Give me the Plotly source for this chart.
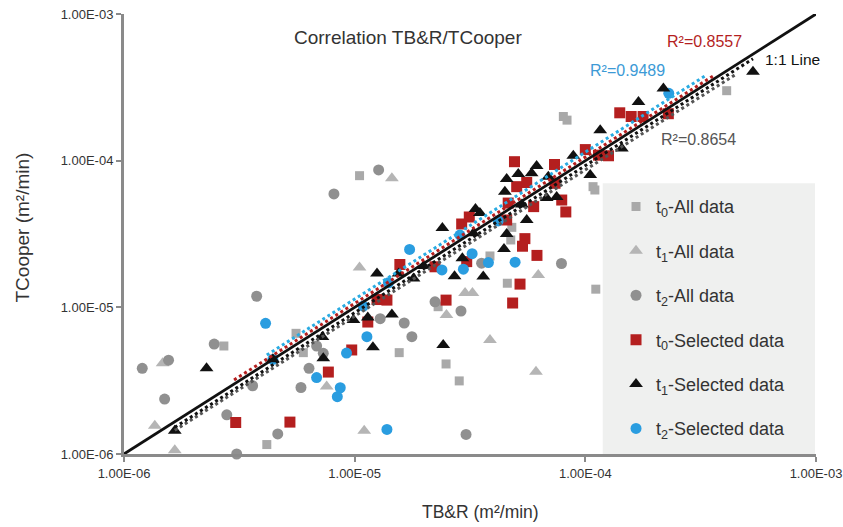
import plotly.graph_objects as go

# ---------------- data ----------------
tick_vals = [1e-6, 1e-5, 1e-4, 1e-3]
tick_text = ["1.00E-06", "1.00E-05", "1.00E-04", "1.00E-03"]

t0_all_x = [1.05e-5, 2.71e-6, 5.57e-6, 5.99e-6, 4.16e-6, 1.56e-5, 2.49e-5, 2.84e-5, 3.86e-5, 4.59e-5,
            4.80e-5, 4.75e-5, 1.11e-4, 8.03e-5, 8.33e-5, 1.08e-4, 1.10e-4, 4.10e-4, 2.30e-5]
t0_all_y = [7.9e-5, 5.45e-6, 6.65e-6, 4.91e-6, 1.16e-6, 4.91e-6, 4.11e-6, 3.15e-6, 2.24e-5, 1.46e-5,
            3.51e-5, 2.88e-5, 1.33e-5, 2.0e-4, 1.89e-4, 6.65e-5, 6.31e-5, 3.0e-4, 1.01e-5]

t1_all_x = [1.45e-5, 1.05e-5, 1.47e-6, 1.36e-6, 1.66e-6, 7.56e-6, 1.10e-5, 2.50e-5, 3.86e-5, 3.01e-5,
            3.24e-5, 6.25e-5, 6.11e-5]
t1_all_y = [7.58e-5, 1.87e-5, 4.15e-6, 1.56e-6, 1.06e-6, 2.88e-6, 1.44e-6, 8.87e-6, 5.99e-6, 1.25e-5,
            1.25e-5, 1.66e-5, 3.64e-6]

t2_all_x = [8.13e-6, 1.27e-5, 3.76e-6, 2.46e-6, 1.20e-6, 1.56e-6, 1.50e-6, 2.79e-6, 3.08e-6, 3.61e-6,
            4.64e-6, 5.85e-6, 6.34e-6, 6.84e-6, 7.31e-6, 1.29e-5, 1.64e-5, 1.77e-5, 2.23e-5, 2.89e-5,
            3.55e-5, 7.88e-5, 3.04e-5]
t2_all_y = [5.93e-5, 8.64e-5, 1.19e-5, 5.62e-6, 3.84e-6, 4.36e-6, 2.37e-6, 1.85e-6, 1.0e-6, 2.92e-6,
            1.37e-6, 2.84e-6, 3.84e-6, 5.45e-6, 4.86e-6, 8.37e-6, 7.82e-6, 6.31e-6, 1.09e-5, 9.44e-6,
            2.0e-5, 1.99e-5, 1.36e-6]

t0_sel_x = [3.05e-6, 5.24e-6, 7.69e-6, 9.71e-6, 1.14e-5, 1.25e-5, 1.38e-5, 1.57e-5, 2.23e-5, 2.49e-5,
            3.06e-5, 2.91e-5, 3.14e-5, 4.56e-5, 4.63e-5, 4.93e-5, 5.04e-5, 5.57e-5, 5.97e-5, 5.47e-5,
            5.34e-5, 6.17e-5, 5.21e-5, 4.84e-5, 7.35e-5, 7.39e-5, 7.90e-5, 8.23e-5, 1.0e-4, 1.14e-4,
            1.26e-4, 1.41e-4, 1.58e-4, 1.78e-4, 2.29e-4]
t0_sel_y = [1.64e-6, 1.65e-6, 3.62e-6, 5.12e-6, 7.94e-6, 1.13e-5, 1.12e-5, 1.96e-5, 1.89e-5, 1.12e-5,
            2.05e-5, 3.70e-5, 4.13e-5, 3.94e-5, 5.14e-5, 9.84e-5, 6.65e-5, 7.10e-5, 4.86e-5, 2.94e-5,
            2.61e-5, 2.26e-5, 1.44e-5, 1.07e-5, 9.42e-5, 7.01e-5, 5.39e-5, 4.47e-5, 1.19e-4, 1.09e-4,
            1.08e-4, 2.12e-4, 2.0e-4, 2.0e-4, 2.09e-4]

t1_sel_x = [1.66e-6, 2.28e-6, 4.42e-6, 7.25e-6, 7.31e-6, 9.88e-6, 1.14e-5, 1.20e-5, 1.45e-5, 1.25e-5,
            1.55e-5, 1.80e-5, 1.99e-5, 2.71e-5, 2.93e-5, 3.61e-5, 2.40e-5, 3.27e-5, 3.34e-5, 3.49e-5,
            2.42e-5, 4.48e-5, 4.56e-5, 5.12e-5, 5.85e-5, 6.15e-5, 6.91e-5, 5.31e-5, 5.57e-5, 4.56e-5,
            4.44e-5, 6.80e-5, 7.51e-5, 8.87e-5, 1.05e-4, 1.16e-4, 1.44e-4, 1.70e-4, 2.18e-4, 5.33e-4]
t1_sel_y = [1.44e-6, 3.84e-6, 4.42e-6, 6.28e-6, 4.49e-6, 8.2e-6, 8.52e-6, 5.34e-6, 8.94e-6, 1.70e-5,
            1.70e-5, 1.57e-5, 1.91e-5, 1.63e-5, 2.16e-5, 1.62e-5, 3.48e-5, 3.20e-5, 4.68e-5, 4.40e-5,
            5.54e-6, 6.14e-5, 7.5e-5, 8.11e-5, 8.2e-5, 9.2e-5, 7.77e-5, 5.02e-5, 3.94e-5, 3.16e-5,
            2.50e-5, 5.57e-5, 5.65e-5, 1.08e-4, 7.99e-5, 1.61e-4, 1.21e-4, 2.51e-4, 3.11e-4, 4.04e-4]

t2_sel_x = [4.11e-6, 4.42e-6, 6.84e-6, 8.66e-6, 8.41e-6, 9.22e-6, 1.13e-5, 1.09e-5, 1.38e-5, 1.40e-5,
            1.73e-5, 2.39e-5, 2.96e-5, 2.86e-5, 3.23e-5, 3.80e-5, 4.96e-5, 4.19e-5, 2.30e-4]
t2_sel_y = [7.78e-6, 4.41e-6, 3.32e-6, 2.83e-6, 2.46e-6, 4.88e-6, 6.31e-6, 1.02e-5, 1.47e-6, 1.47e-5,
            2.48e-5, 1.80e-5, 1.82e-5, 3.11e-5, 2.32e-5, 2.02e-5, 2.03e-5, 3.88e-5, 2.88e-4]

# trend lines (end points)
line_11_x = [1e-6, 1e-3]
line_11_y = [1e-6, 1e-3]
fit_t0_x = [3.0e-6, 3.6e-4]
fit_t0_y = [3.2e-6, 3.8e-4]
fit_t2_x = [4.16e-6, 3.30e-4]
fit_t2_y = [4.73e-6, 3.78e-4]
fit_t1_x = [1.66e-6, 5.33e-4]
fit_t1_y = [1.52e-6, 4.95e-4]
fit_all_x = [1.66e-6, 4.46e-4]
fit_all_y = [1.45e-6, 3.85e-4]

FONT = "Liberation Sans, Arial, Helvetica, sans-serif"
TXT = "#333333"

fig = go.Figure()

def pts(x, y, name, symbol, size, color, rank):
    fig.add_trace(go.Scatter(
        x=x, y=y, mode="markers", name=name, legendgroup=name, legendrank=rank,
        marker=dict(symbol=symbol, size=size, color=color, line=dict(width=0)),
        cliponaxis=False, hoverinfo="skip"))

pts(t0_all_x, t0_all_y, "t<sub>0</sub>-All data", "square", 9, "#a9a9a9", 1)
pts(t1_all_x, t1_all_y, "t<sub>1</sub>-All data", "triangle-up", 12, "#b5b5b5", 2)
pts(t2_all_x, t2_all_y, "t<sub>2</sub>-All data", "circle", 11, "#909090", 3)
pts(t0_sel_x, t0_sel_y, "t<sub>0</sub>-Selected data", "square", 11, "#b41f1f", 4)
pts(t2_sel_x, t2_sel_y, "t<sub>2</sub>-Selected data", "circle", 11, "#2a9de0", 6)
pts(t1_sel_x, t1_sel_y, "t<sub>1</sub>-Selected data", "triangle-up", 12, "#111111", 5)

def ln(x, y, color, width, dash):
    fig.add_trace(go.Scatter(x=x, y=y, mode="lines", showlegend=False, hoverinfo="skip",
                             line=dict(color=color, width=width, dash=dash)))

ln(fit_all_x, fit_all_y, "#555555", 3, "dot")
ln(fit_t1_x, fit_t1_y, "#111111", 3, "dot")
ln(line_11_x, line_11_y, "#111111", 2.8, "solid")
ln(fit_t0_x, fit_t0_y, "#b41f1f", 3, "dot")
ln(fit_t2_x, fit_t2_y, "#29abe2", 3, "dot")

axis_common = dict(
    type="log", range=[-6, -3], tickvals=tick_vals, ticktext=tick_text, automargin=False,
    ticklabeloverflow="allow",
    showgrid=False, zeroline=False, showline=True, linecolor="#8a8a8a", linewidth=3,
    ticks="outside", ticklen=5, tickwidth=2, tickcolor="#8a8a8a",
    tickfont=dict(family=FONT, size=13, color=TXT))

fig.update_layout(
    width=843, height=527, autosize=False,
    margin=dict(l=124, r=27, t=14, b=73),
    paper_bgcolor="white", plot_bgcolor="white",
    xaxis=dict(**axis_common),
    yaxis=dict(**axis_common),
    showlegend=True,
    legend=dict(x=0.711, y=0.604, xanchor="left", yanchor="top",
                bgcolor="rgba(0,0,0,0)", borderwidth=0,
                font=dict(family=FONT, size=18, color=TXT),
                tracegroupgap=18, itemwidth=30),
    shapes=[dict(type="rect", xref="paper", yref="paper", x0=0.6918, x1=0.9986, y0=0.0, y1=0.6152,
                 fillcolor="#eff0ef", line=dict(width=0), layer="below")],
    annotations=[
        dict(text="Correlation TB&R/TCooper", x=0.4104, y=0.9455, xref="paper", yref="paper",
             showarrow=False, xanchor="center", yanchor="middle",
             font=dict(family=FONT, size=19, color=TXT)),
        dict(text="R²=0.8557", x=0.8382, y=0.9364, xref="paper", yref="paper",
             showarrow=False, xanchor="center", yanchor="middle",
             font=dict(family=FONT, size=16, color="#b41f1f")),
        dict(text="R²=0.9489", x=0.7276, y=0.8705, xref="paper", yref="paper",
             showarrow=False, xanchor="center", yanchor="middle",
             font=dict(family=FONT, size=16, color="#3c9ad6")),
        dict(text="1:1 Line", x=0.966, y=0.8955, xref="paper", yref="paper",
             showarrow=False, xanchor="center", yanchor="middle",
             font=dict(family=FONT, size=15.5, color="#111111")),
        dict(text="R²=0.8654", x=0.8309, y=0.7159, xref="paper", yref="paper",
             showarrow=False, xanchor="center", yanchor="middle",
             font=dict(family=FONT, size=16, color="#555555")),
        dict(text="TB&R (m²/min)", x=0.5145, y=-0.1311, xref="paper", yref="paper",
             showarrow=False, xanchor="center", yanchor="middle",
             font=dict(family=FONT, size=17.5, color=TXT)),
        dict(text="TCooper (m²/min)", x=-0.1474, y=0.5148, xref="paper", yref="paper",
             showarrow=False, xanchor="center", yanchor="middle", textangle=-90,
             font=dict(family=FONT, size=19, color=TXT)),
    ],
)

# remove the browser's default 8 px body margin so the 843x527 figure fills the window exactly
fig.write_html("out.html",
               config={"displayModeBar": False},
               post_script="document.body.style.margin='0px';document.body.style.overflow='hidden';")
